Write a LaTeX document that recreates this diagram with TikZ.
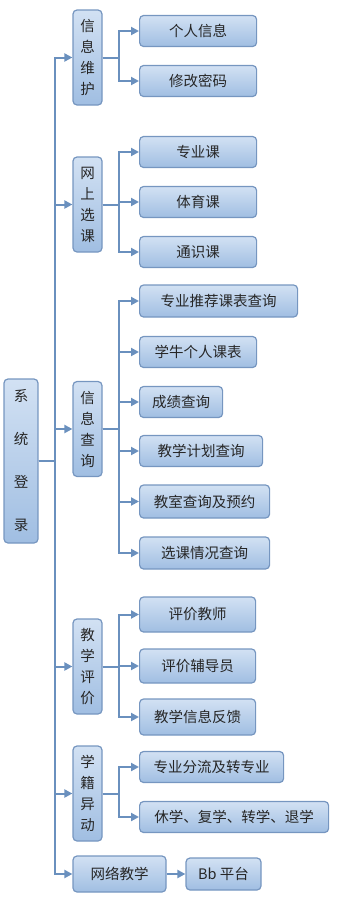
\documentclass[tikz,border=0pt]{standalone}
\usepackage{fontspec}
\usepackage{xcolor}
\usepackage{tikz}
\usetikzlibrary{arrows.meta,positioning}
\newfontfamily\cjk{Noto Sans CJK SC}

\definecolor{edgeblue}{RGB}{106,144,190}
\definecolor{rimblue}{RGB}{118,150,192}
\definecolor{topblue}{RGB}{210,225,243}
\definecolor{botblue}{RGB}{160,190,226}

\begin{document}
\begin{tikzpicture}[x=1pt, y=-1pt,
  box/.style={draw=rimblue, line width=1.2pt, rounded corners=4pt,
              top color=topblue, bottom color=botblue,
              inner sep=0pt, align=center, text=black!85,
              font=\cjk\fontsize{14.5}{17}\selectfont},
  col/.style={box, minimum width=29pt, minimum height=95pt,
              font=\cjk\fontsize{14.5}{21}\selectfont},
  leaf/.style={box, anchor=west, minimum height=31pt},
  arr/.style={-{Triangle[length=8pt, width=8pt]}, line width=2pt, edgeblue}
]
  \useasboundingbox (0,0) rectangle (338,900);
  % Root
  \node[box, minimum width=34pt, minimum height=164pt,
        font=\cjk\fontsize{14.5}{43}\selectfont] (login) at (21,461)
        {系\\统\\登\\录};
  % Level one
  \node[col] (info)  at (87.5,57.5)  {信\\息\\维\\护};
  \node[col] (pick)  at (87.5,204.5) {网\\上\\选\\课};
  \node[col] (query) at (87.5,429)   {信\\息\\查\\询};
  \node[col] (rate)  at (87.5,666.5) {教\\学\\评\\价};
  \node[col] (roll)  at (87.5,793.5) {学\\籍\\异\\动};
  \node[box, minimum width=93pt, minimum height=36pt] (net) at (119.5,874) {网络教学};
  % Level two
  \node[leaf, minimum width=117pt] (i1) at (139,31) {个人信息};
  \node[leaf, minimum width=117pt] (i2) at (139,81) {修改密码};
  \node[leaf, minimum width=117pt] (p1) at (139,152) {专业课};
  \node[leaf, minimum width=117pt] (p2) at (139,202) {体育课};
  \node[leaf, minimum width=117pt] (p3) at (139,252) {通识课};
  \node[leaf, minimum width=158pt, minimum height=32pt] (q1) at (139,301) {专业推荐课表查询};
  \node[leaf, minimum width=117pt] (q2) at (139,352) {学牛个人课表};
  \node[leaf, minimum width=83pt]  (q3) at (139,402) {成绩查询};
  \node[leaf, minimum width=123pt] (q4) at (139,451) {教学计划查询};
  \node[leaf, minimum width=130pt, minimum height=33pt] (q5) at (139,501.5) {教室查询及预约};
  \node[leaf, minimum width=130pt, minimum height=32pt] (q6) at (139,553) {选课情况查询};
  \node[leaf, minimum width=116pt, minimum height=35pt] (r1) at (139,614.5) {评价教师};
  \node[leaf, minimum width=116pt, minimum height=34pt] (r2) at (139,666) {评价辅导员};
  \node[leaf, minimum width=116pt, minimum height=36pt] (r3) at (139,717) {教学信息反馈};
  \node[leaf, minimum width=144pt] (s1) at (139,767) {专业分流及转专业};
  \node[leaf, minimum width=189pt] (s2) at (139,817) {休学、复学、转学、退学};
  \node[box, minimum width=75pt, minimum height=32pt] (bb) at (223.5,874) {Bb 平台};
  % Trunk
  \foreach \t in {info,pick,query,rate,roll,net}
    \draw[arr] (login.east) -- ++(16,0) |- (\t.west);
  % Branches
  \foreach \s/\t in {info/i1,info/i2,pick/p1,pick/p2,pick/p3,
                     query/q1,query/q2,query/q3,query/q4,query/q5,query/q6,
                     rate/r1,rate/r2,rate/r3,roll/s1,roll/s2}
    \draw[arr] (\s.east) -- ++(16,0) |- (\t.west);
  \draw[arr] (net) -- (bb);
\end{tikzpicture}
\end{document}
